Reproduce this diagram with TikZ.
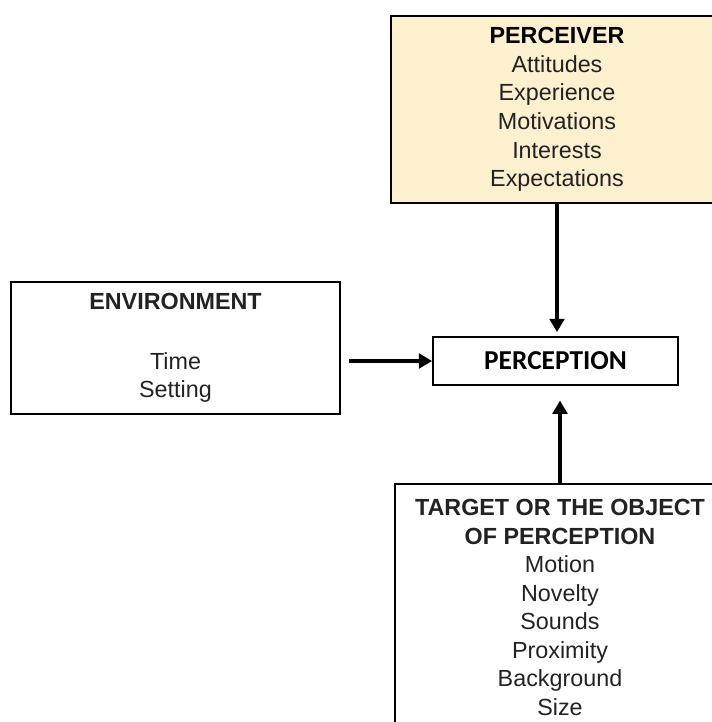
\documentclass[tikz,border=0pt]{standalone}
\usepackage{fontspec}
\setmainfont{Liberation Sans}
\newfontfamily\calfont{Carlito}
\usetikzlibrary{arrows.meta}

\definecolor{percfill}{RGB}{253,240,207}
\definecolor{txtgray}{RGB}{34,34,34}

\tikzset{
  factorbox/.style={draw=black, line width=1.3pt, align=center, text=txtgray,
    font=\fontsize{17.5pt}{21.4pt}\selectfont, inner sep=0pt},
  flow/.style={line width=3.6pt, -{Triangle[length=10pt,width=11pt]}}
}

\begin{document}
\begin{tikzpicture}[x=0.75pt,y=-0.75pt]
\useasboundingbox (0,0) rectangle (712,722);
\clip (0,0) rectangle (712,722);

% the three factors and the result
\node[factorbox, fill=percfill, line width=1.6pt, minimum width=249pt, minimum height=140.25pt]
  (perceiver) at (557,109.5)
  {\textcolor{black}{\textbf{PERCEIVER}}\\Attitudes\\Experience\\Motivations\\Interests\\Expectations};
\node[factorbox, minimum width=246.75pt, minimum height=99pt] (environment) at (175.5,348)
  {\textbf{ENVIRONMENT}\\[23pt]Time\\Setting};
\node[factorbox, text=black, font=\calfont\bfseries\fontsize{20.5pt}{24pt}\selectfont,
  minimum width=183.75pt, minimum height=36pt] (perception) at (555.5,361) {PERCEPTION};
\node[factorbox, minimum width=247.5pt, minimum height=185.25pt] (target) at (560,607.5)
  {\textbf{TARGET OR THE OBJECT}\\\textbf{OF PERCEPTION}\\Motion\\Novelty\\Sounds\\Proximity\\Background\\Size};

% arrows into perception
\draw[flow, shorten >=3pt] (perceiver.south) -- (perceiver.south |- perception.north);
\draw[flow, shorten <=6pt] (environment.east |- perception.west) -- (perception.west);
\draw[flow, shorten >=11pt] (target.north) -- (target.north |- perception.south);
\end{tikzpicture}
\end{document}
